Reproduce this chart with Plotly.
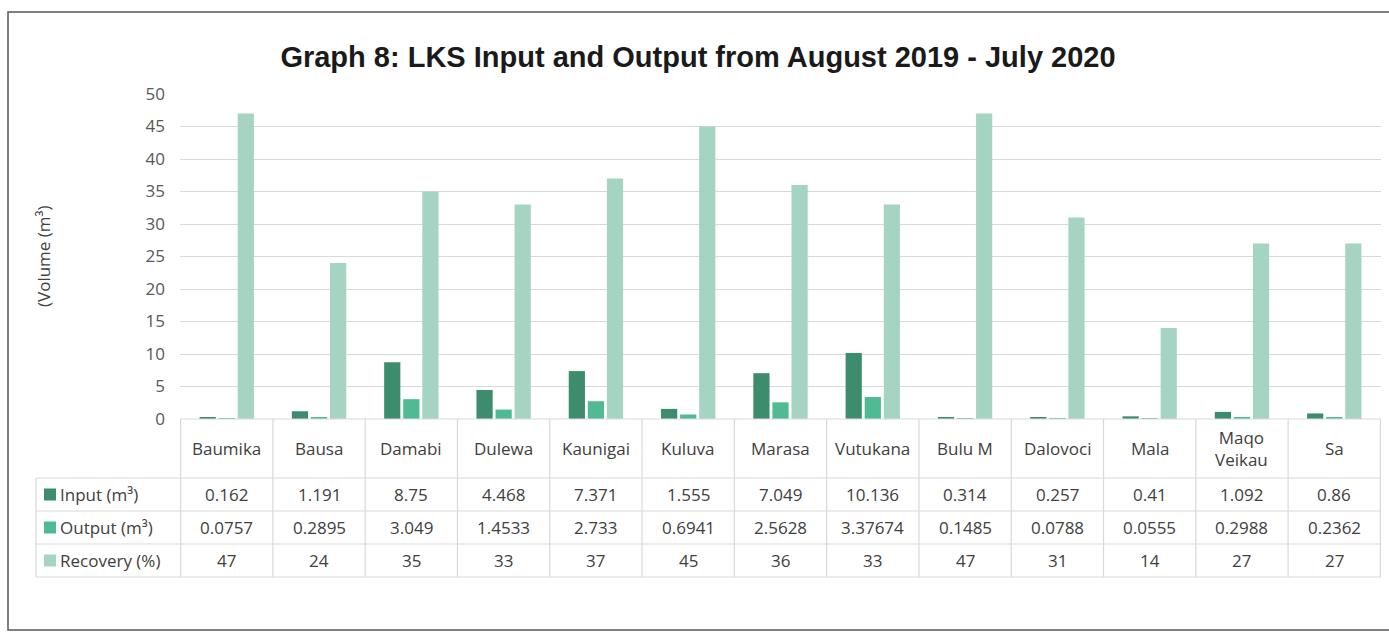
import plotly.graph_objects as go

categories = ["Baumika", "Bausa", "Damabi", "Dulewa", "Kaunigai", "Kuluva", "Marasa",
              "Vutukana", "Bulu M", "Dalovoci", "Mala", "Maqo Veikau", "Sa"]
header_labels = ["Baumika", "Bausa", "Damabi", "Dulewa", "Kaunigai", "Kuluva", "Marasa",
                 "Vutukana", "Bulu M", "Dalovoci", "Mala", "Maqo<br>Veikau", "Sa"]
input_m3 = [0.162, 1.191, 8.75, 4.468, 7.371, 1.555, 7.049, 10.136, 0.314, 0.257, 0.41, 1.092, 0.86]
output_m3 = [0.0757, 0.2895, 3.049, 1.4533, 2.733, 0.6941, 2.5628, 3.37674, 0.1485, 0.0788, 0.0555, 0.2988, 0.2362]
recovery_pct = [47, 24, 35, 33, 37, 45, 36, 33, 47, 31, 14, 27, 27]

series_names = ["Input (m³)", "Output (m³)", "Recovery (%)"]
series_values = [input_m3, output_m3, recovery_pct]
colors = ["#3d8c6d", "#4fba93", "#a6d4c3"]

W, H = 1389, 637
L, R, T, B = 180, 8, 94, 218
PW, PH = W - L - R, H - T - B

def px(xp):
    return (xp - L) / PW

def py(yp):
    return (H - B - yp) / PH

FONT = "'Open Sans', sans-serif"
FS = 17
TXT = "#404040"
GRID = "#d9d9d9"

fig = go.Figure()
for name, vals, c in zip(series_names, series_values, colors):
    fig.add_trace(go.Bar(x=categories, y=vals, name=name, marker=dict(color=c, line=dict(width=0))))

shapes = []
annotations = []

row_edges = [419, 478, 511, 544, 577]
left_x = 36

shapes.append(dict(type="line", xref="paper", yref="paper", x0=0, x1=1, y0=py(419), y1=py(419),
                   line=dict(color=GRID, width=1.2)))
for yp in row_edges[1:]:
    shapes.append(dict(type="line", xref="paper", yref="paper", x0=px(left_x), x1=1, y0=py(yp), y1=py(yp),
                       line=dict(color=GRID, width=1.2)))
shapes.append(dict(type="line", xref="paper", yref="paper", x0=px(left_x), x1=px(left_x),
                   y0=py(row_edges[1]), y1=py(row_edges[-1]), line=dict(color=GRID, width=1.2)))
for i in range(len(categories) + 1):
    shapes.append(dict(type="line", xref="x", yref="paper", x0=i - 0.5, x1=i - 0.5,
                       y0=py(row_edges[0]), y1=py(row_edges[-1]), line=dict(color=GRID, width=1.2)))

for cat, lab in zip(categories, header_labels):
    annotations.append(dict(x=cat, xref="x", y=py((row_edges[0] + row_edges[1]) / 2), yref="paper",
                            text=lab, showarrow=False, font=dict(family=FONT, size=FS, color=TXT),
                            xanchor="center", yanchor="middle"))

for r, (name, vals, c) in enumerate(zip(series_names, series_values, colors)):
    ymid = py((row_edges[r + 1] + row_edges[r + 2]) / 2)
    shapes.append(dict(type="rect", xref="paper", yref="paper", x0=px(44), x1=px(56),
                       y0=ymid - 6 / PH, y1=ymid + 6 / PH, fillcolor=c, line=dict(width=0)))
    annotations.append(dict(x=px(58), xref="paper", y=ymid, yref="paper", text=name, showarrow=False,
                            font=dict(family=FONT, size=FS, color=TXT), xanchor="left", yanchor="middle"))
    for cat, v in zip(categories, vals):
        annotations.append(dict(x=cat, xref="x", y=ymid, yref="paper", text=str(v), showarrow=False,
                                font=dict(family=FONT, size=FS, color=TXT), xanchor="center", yanchor="middle"))

annotations.append(dict(x=px(43), xref="paper", y=py(257), yref="paper", text="(Volume (m³)",
                        textangle=-90, showarrow=False, font=dict(family=FONT, size=FS, color=TXT),
                        xanchor="center", yanchor="middle"))

shapes.append(dict(type="rect", xref="paper", yref="paper", x0=px(8), x1=px(1390), y0=py(630), y1=py(12),
                   line=dict(color="#555555", width=1.5), fillcolor="rgba(0,0,0,0)"))

fig.update_layout(
    width=W, height=H,
    margin=dict(l=L, r=R, t=T, b=B, autoexpand=False),
    paper_bgcolor="white", plot_bgcolor="white",
    barmode="group", bargap=0.38, bargroupgap=0.15,
    showlegend=False,
    title=dict(text="<b>Graph 8: LKS Input and Output from August 2019 - July 2020</b>",
               x=698 / W, xanchor="center", y=1 - 57 / H, yanchor="middle",
               font=dict(family="'Liberation Sans', Arial, sans-serif", size=29, color="#1a1a1a")),
    xaxis=dict(showticklabels=False, showgrid=False, zeroline=False, showline=False, ticks=""),
    yaxis=dict(range=[0, 50], dtick=5, showgrid=True, gridcolor=GRID, gridwidth=1.2, zeroline=False,
               showline=False, ticks="", tickfont=dict(family=FONT, size=FS, color="#595959"),
               ticklabelstandoff=14),
    shapes=shapes, annotations=annotations,
)

fig.write_html("out.html", config={"displayModeBar": False},
               post_script="document.body.style.margin='0';document.body.style.overflow='hidden';")
